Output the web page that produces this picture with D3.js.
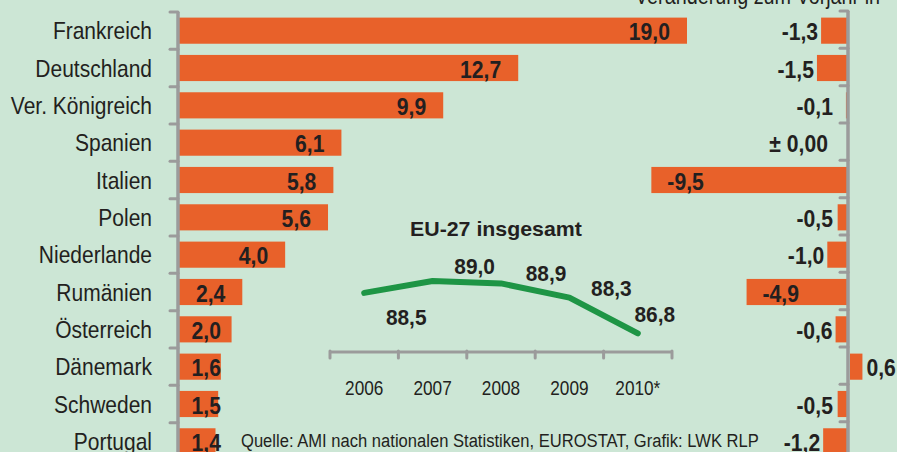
<!DOCTYPE html>
<html>
<head>
<meta charset="utf-8">
<script src="https://cdn.jsdelivr.net/npm/d3@7"></script>
<style>
  body { margin: 0; background: #cce6d5; }
  svg { display: block; }
  text { fill: #231f20; font-family: 'Liberation Sans', Arial, sans-serif; }
</style>
</head>
<body>
<div id="chart"></div>
<script>
// Marktanteile und Veränderung zum Vorjahr
const countries = ["Frankreich", "Deutschland", "Ver. Königreich", "Spanien", "Italien", "Polen",
    "Niederlande", "Rumänien", "Österreich", "Dänemark", "Schweden", "Portugal"];
const shares = [19.0, 12.7, 9.9, 6.1, 5.8, 5.6, 4.0, 2.4, 2.0, 1.6, 1.5, 1.4];
const changes = [-1.3, -1.5, -0.1, 0.0, -9.5, -0.5, -1.0, -4.9, -0.6, 0.6, -0.5, -1.2];

// EU-27 insgesamt (inset)
const years = ["2006", "2007", "2008", "2009", "2010*"];
const euTotal = [88.5, 89.0, 88.9, 88.3, 86.8];

const width = 897, height = 452;
const orange = "#e8612a";
const axisGrey = "#9b9b9b";

const de = d3.formatLocale({ decimal: ",", thousands: ".", grouping: [3], currency: ["", " €"], minus: "-" });
const fmt = de.format(".1f");

const svg = d3.select("#chart").append("svg")
    .attr("width", width)
    .attr("height", height);

svg.append("rect")
    .attr("width", width)
    .attr("height", height)
    .attr("fill", "#cce6d5");

// no narrow font installed -> squeeze Liberation Sans horizontally
function label(g, x, y, str, size, opts = {}) {
    const sx = opts.sx || 1;
    return g.append("text")
        .attr("transform", `translate(${x},${y}) scale(${sx},1)`)
        .attr("text-anchor", opts.anchor || "start")
        .style("font-size", size + "px")
        .style("font-weight", opts.bold ? "bold" : "normal")
        .text(str);
}

// squeeze/stretch a label to a target width
function fitWidth(sel, x, y, target) {
    const len = sel.node().getComputedTextLength();
    sel.attr("transform", `translate(${x},${y}) scale(${target / len},1)`);
}

// shared row scale
const y = d3.scaleBand()
    .domain(countries)
    .range([12, 460])
    .paddingInner(0.3)
    .paddingOuter(0.15);
const step = y.step();
const rowCenter = d => y(d) + y.bandwidth() / 2;

// ---- left: shares ----
const x = d3.scaleLinear().domain([0, 19]).range([178, 687]);

const left = svg.append("g");

left.selectAll(".bar")
    .data(countries)
    .enter().append("rect")
    .attr("class", "bar")
    .attr("x", x(0))
    .attr("y", d => y(d))
    .attr("width", (d, i) => x(shares[i]) - x(0))
    .attr("height", y.bandwidth())
    .attr("fill", orange);

// axis line with ticks at row boundaries
left.append("line")
    .attr("x1", x(0)).attr("x2", x(0))
    .attr("y1", 12).attr("y2", height)
    .attr("stroke", axisGrey).attr("stroke-width", 3.5);
left.selectAll(".tick")
    .data(d3.range(countries.length + 1))
    .enter().append("line")
    .attr("x1", x(0) - 8).attr("x2", x(0))
    .attr("y1", i => 12 + i * step).attr("y2", i => 12 + i * step)
    .attr("stroke", axisGrey).attr("stroke-width", 3)
    .attr("stroke-linecap", "round");

countries.forEach((c, i) => {
    label(left, 152, rowCenter(c) + 8.5, c, 24, { anchor: "end", sx: 0.875 });
    const lx = Math.max(x(shares[i]) - 17, x(0) + 43);
    label(left, lx, rowCenter(c) + 9.5, fmt(shares[i]), 23, { anchor: "end", bold: true, sx: 0.92 });
});

// ---- right: change vs previous year ----
const xc = d3.scaleLinear().domain([-10, 1]).range([848 - 207, 848 + 20.7]);

const right = svg.append("g");

right.selectAll(".cbar")
    .data(countries)
    .enter().append("rect")
    .attr("x", (d, i) => changes[i] < 0 ? xc(changes[i]) : xc(0) + 2)
    .attr("y", d => y(d))
    .attr("width", (d, i) => Math.abs(xc(changes[i]) - xc(0)))
    .attr("height", y.bandwidth())
    .attr("fill", orange);

right.append("line")
    .attr("x1", xc(0)).attr("x2", xc(0))
    .attr("y1", 11).attr("y2", height)
    .attr("stroke", axisGrey).attr("stroke-width", 3.5);
right.selectAll(".tick")
    .data(d3.range(countries.length + 1))
    .enter().append("line")
    .attr("x1", xc(0) - 8).attr("x2", xc(0))
    .attr("y1", i => 11 + i * step).attr("y2", i => 11 + i * step)
    .attr("stroke", axisGrey).attr("stroke-width", 3)
    .attr("stroke-linecap", "round");

countries.forEach((c, i) => {
    const v = changes[i];
    let lx, anchor = "end";
    if (v <= -4) { lx = xc(v) + 16; anchor = "start"; }
    else if (v > 0) { lx = xc(v) + 6; anchor = "start"; }
    else if (v === 0) { lx = xc(0) - 20; }
    else { lx = Math.min(xc(v), 836) - 3; }
    const txt = v === 0 ? "\u00b1 0,00" : fmt(v);
    label(right, lx, rowCenter(c) + 9.5, txt, 23, { anchor, bold: true, sx: 0.92 });
});

label(svg, 635, 4, "Veränderung zum Vorjahr in", 23, { sx: 0.86 });

// ---- inset: EU-27 total ----
const xe = d3.scaleBand().domain(years).range([330, 672]);
const ye = d3.scaleLinear().domain([86, 90]).range([352.4, 257.2]);

const inset = svg.append("g");

const title = label(inset, 410, 236, "EU-27 insgesamt", 21, { bold: true });
fitWidth(title, 410, 236, 172);

inset.append("line")
    .attr("x1", 330).attr("x2", 672)
    .attr("y1", 352).attr("y2", 352)
    .attr("stroke", axisGrey).attr("stroke-width", 3);
inset.selectAll(".etick")
    .data(d3.range(years.length + 1))
    .enter().append("line")
    .attr("x1", i => 330 + i * xe.step()).attr("x2", i => 330 + i * xe.step())
    .attr("y1", 351).attr("y2", 358)
    .attr("stroke", axisGrey).attr("stroke-width", 3)
    .attr("stroke-linecap", "round");

years.forEach(yr => {
    label(inset, xe(yr) + xe.bandwidth() / 2, 395, yr, 21, { anchor: "middle", sx: 0.82 });
});

const line = d3.line()
    .x((d, i) => xe(years[i]) + xe.bandwidth() / 2)
    .y(d => ye(d));

inset.append("path")
    .datum(euTotal)
    .attr("fill", "none")
    .attr("stroke", "#1e9545")
    .attr("stroke-width", 6)
    .attr("stroke-linecap", "round")
    .attr("stroke-linejoin", "round")
    .attr("d", line);

// label placement around the line
const labelDx = [42, 42, 45, 42, 17];
const labelDy = [32, -7, -2, -2, -11];
euTotal.forEach((v, i) => {
    const px = xe(years[i]) + xe.bandwidth() / 2 + labelDx[i];
    label(inset, px, ye(v) + labelDy[i], fmt(v), 22, { anchor: "middle", bold: true, sx: 0.95 });
});

// source line, fitted to its width in the original
const src = label(svg, 241, 447, "Quelle: AMI nach nationalen Statistiken, EUROSTAT, Grafik: LWK RLP", 19);
fitWidth(src, 241, 447, 518);
</script>
</body>
</html>
